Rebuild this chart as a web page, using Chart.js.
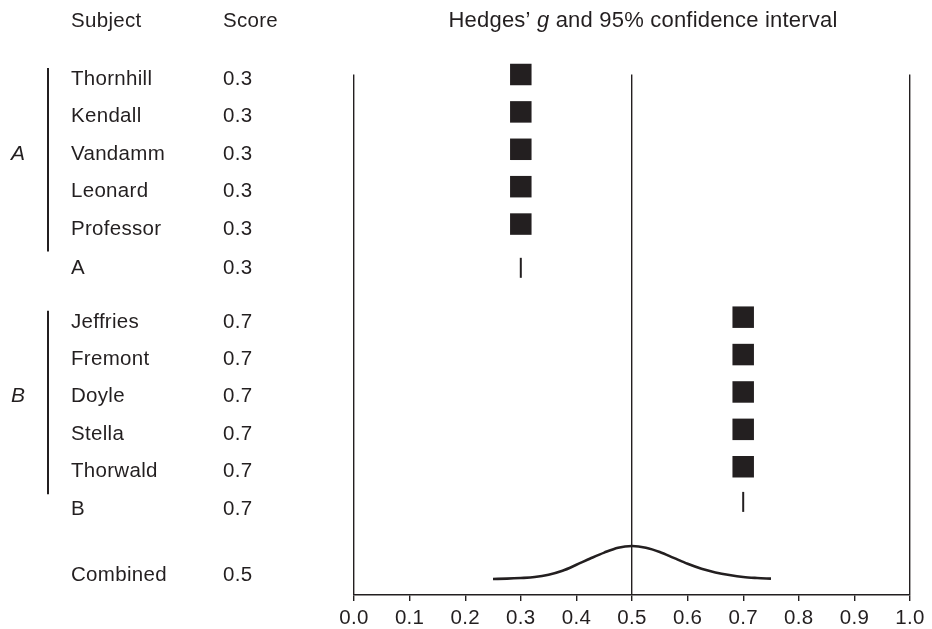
<!DOCTYPE html>
<html>
<head>
<meta charset="utf-8">
<script src="https://cdn.jsdelivr.net/npm/chart.js@4"></script>
<style>
  body { margin: 0; background: #fff; }
  #wrap { width: 932px; height: 629px; }
</style>
</head>
<body>
<div id="wrap"><canvas id="c" width="932" height="629"></canvas></div>
<script>
// data
const subjectsA = ['Thornhill', 'Kendall', 'Vandamm', 'Leonard', 'Professor'];
const scoresA = [0.3, 0.3, 0.3, 0.3, 0.3];
const subjectsB = ['Jeffries', 'Fremont', 'Doyle', 'Stella', 'Thorwald'];
const scoresB = [0.7, 0.7, 0.7, 0.7, 0.7];
const groupNames = ['A', 'B'];
const groupScores = [0.3, 0.7];
const combinedLabel = 'Combined';
const combinedScore = 0.5;
const curveX = [0.25, 0.275, 0.3, 0.325, 0.35, 0.375, 0.4, 0.425, 0.45, 0.475, 0.5,
  0.525, 0.55, 0.575, 0.6, 0.625, 0.65, 0.675, 0.7, 0.725, 0.75];
const curveDensity = [0.0, 0.01, 0.03, 0.06, 0.13, 0.25, 0.43, 0.62, 0.8, 0.95, 1.0,
  0.95, 0.82, 0.64, 0.46, 0.31, 0.2, 0.12, 0.06, 0.03, 0.01];

const INK = '#231f20';
const FONT = "'Liberation Sans', Arial, sans-serif";
const FS = 20.5;
const SPACING = '0.3px';

// row layout (in row units down the y axis)
const groupStart = [0, 6.49];
const summaryOffset = [5.05, 5.0];
const tickNudge = [0.12, -0.06];
const combinedRow = 13.27;

const squares = [];
const ticksMarks = [];
const textRows = [];
[[subjectsA, scoresA], [subjectsB, scoresB]].forEach(([names, vals], g) => {
  names.forEach((n, i) => {
    const r = groupStart[g] + i;
    squares.push({ x: vals[i], y: r });
    textRows.push({ name: n, score: vals[i], row: r });
  });
  const sr = groupStart[g] + summaryOffset[g];
  ticksMarks.push({ x: groupScores[g], y: sr + tickNudge[g] });
  textRows.push({ name: groupNames[g], score: groupScores[g], row: sr });
});
textRows.push({ name: combinedLabel, score: combinedScore, row: combinedRow });

const curve = curveX.map((x, i) => ({ x: x, y: curveDensity[i] }));

const spacingPlugin = {
  id: 'spacing',
  beforeLayout(chart) { chart.ctx.letterSpacing = SPACING; },
  beforeDraw(chart) { chart.ctx.letterSpacing = SPACING; }
};

const textPlugin = {
  id: 'forestText',
  afterDraw(chart) {
    const ctx = chart.ctx;
    const ys = chart.scales.y;
    ctx.save();
    ctx.letterSpacing = SPACING;
    ctx.fillStyle = INK;
    ctx.textBaseline = 'alphabetic';
    ctx.font = FS + 'px ' + FONT;
    ctx.textAlign = 'left';
    ctx.fillText('Subject', 71, 27);
    ctx.fillText('Score', 223, 27);
    // title with italic g
    const TF = 22;
    ctx.letterSpacing = '0.2px';
    const p1 = 'Hedges\u2019 ', p2 = 'g', p3 = ' and 95% confidence interval';
    ctx.font = TF + 'px ' + FONT;
    const w1 = ctx.measureText(p1).width;
    const w3 = ctx.measureText(p3).width;
    ctx.font = 'italic ' + TF + 'px ' + FONT;
    const w2 = ctx.measureText(p2).width;
    const total = w1 + w2 + w3;
    const tx = 643 - total / 2;
    ctx.font = TF + 'px ' + FONT;
    ctx.fillText(p1, tx, 27);
    ctx.font = 'italic ' + TF + 'px ' + FONT;
    ctx.fillText(p2, tx + w1, 27);
    ctx.font = TF + 'px ' + FONT;
    ctx.fillText(p3, tx + w1 + w2, 27);
    ctx.letterSpacing = SPACING;

    ctx.font = FS + 'px ' + FONT;
    textRows.forEach(t => {
      const y = ys.getPixelForValue(t.row) + 10.5;
      ctx.fillText(t.name, 71, y);
      ctx.fillText(t.score.toFixed(1), 223, y);
    });

    // group brackets and italic labels
    ctx.strokeStyle = INK;
    ctx.lineWidth = 2;
    groupNames.forEach((gname, g) => {
      const top = ys.getPixelForValue(groupStart[g]) - 6.5;
      const bot = ys.getPixelForValue(groupStart[g] + 4) + 27.5;
      ctx.beginPath();
      ctx.moveTo(48, top);
      ctx.lineTo(48, bot);
      ctx.stroke();
      ctx.font = 'italic 21px ' + FONT;
      ctx.fillText(gname, 11, ys.getPixelForValue(groupStart[g] + 2) + 10.5);
    });
    ctx.restore();
  }
};

const keyLines = [0, 0.5, 1];

new Chart(document.getElementById('c').getContext('2d'), {
  type: 'scatter',
  data: {
    datasets: [
      {
        label: 'subjects',
        data: squares,
        pointStyle: 'rect',
        pointRadius: 15.2,
        pointHoverRadius: 15.2,
        backgroundColor: INK,
        borderColor: INK,
        borderWidth: 0,
        clip: false
      },
      {
        label: 'groups',
        data: ticksMarks,
        pointStyle: 'line',
        rotation: 90,
        pointRadius: 10,
        pointHoverRadius: 10,
        borderColor: INK,
        borderWidth: 2,
        clip: false
      },
      {
        type: 'line',
        label: 'combined',
        data: curve,
        yAxisID: 'y2',
        borderColor: INK,
        borderWidth: 2.6,
        pointRadius: 0,
        fill: false,
        tension: 0.4,
        cubicInterpolationMode: 'monotone'
      }
    ]
  },
  options: {
    responsive: false,
    animation: false,
    layout: { padding: { left: 354, right: 22, top: 74.5, bottom: 0 } },
    plugins: { legend: { display: false }, tooltip: { enabled: false } },
    scales: {
      x: {
        type: 'linear',
        min: 0,
        max: 1,
        afterFit: s => { s.height = 34; },
        grid: {
          color: c => (c.tick && keyLines.includes(Math.round(c.tick.value * 10) / 10)) ? INK : 'rgba(0,0,0,0)',
          tickColor: INK,
          tickLength: 6,
          lineWidth: 1.4
        },
        border: { color: INK, width: 1.5 },
        ticks: {
          stepSize: 0.1,
          padding: 5,
          color: INK,
          font: { family: FONT, size: FS },
          maxRotation: 0,
          autoSkip: false,
          callback: v => Number(v).toFixed(1)
        }
      },
      y: {
        type: 'linear',
        reverse: true,
        min: 0,
        max: 13.92,
        display: false
      },
      y2: {
        type: 'linear',
        min: -0.485,
        max: 15.29,
        display: false
      }
    }
  },
  plugins: [spacingPlugin, textPlugin]
});
</script>
</body>
</html>
